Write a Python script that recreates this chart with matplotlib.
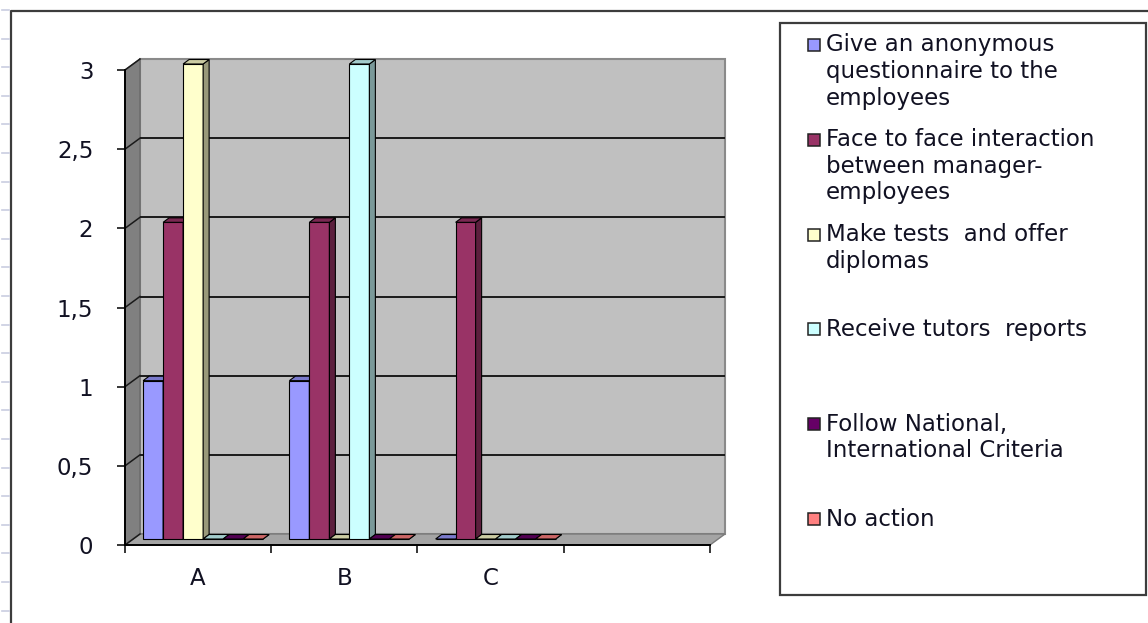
import matplotlib.pyplot as plt
import numpy as np
from matplotlib.colors import to_rgb
from matplotlib.lines import Line2D
from matplotlib.patches import Polygon, Rectangle

W, H = 1148, 623

categories = ['A', 'B', 'C']
series_names = [
    'Give an anonymous\nquestionnaire to the\nemployees',
    'Face to face interaction\nbetween manager-\nemployees',
    'Make tests  and offer\ndiplomas',
    'Receive tutors  reports',
    'Follow National,\nInternational Criteria',
    'No action',
]
questionnaire = [1, 1, 0]
face_to_face = [2, 2, 2]
tests_diplomas = [3, 0, 0]
tutors_reports = [0, 3, 0]
national_criteria = [0, 0, 0]
no_action = [0, 0, 0]
series_values = [questionnaire, face_to_face, tests_diplomas,
                 tutors_reports, national_criteria, no_action]
colors = ['#9999FF', '#993366', '#FFFFCC', '#CCFFFF', '#660066', '#FF8080']
y_ticks = [0, 0.5, 1, 1.5, 2, 2.5, 3]
y_labels = ['0', '0,5', '1', '1,5', '2', '2,5', '3']

# front plane of the plot in pixels
AX_L, AX_R, AX_T, AX_B = 125, 710, 70, 545
X_MIN, X_MAX, Y_MAX = -0.5, 3.5, 3
PX_X = (AX_R - AX_L) / (X_MAX - X_MIN)
PX_Y = (AX_B - AX_T) / Y_MAX


def px(dx, dy):
    return dx / PX_X, dy / PX_Y


def shade(color, k):
    return tuple(c * k for c in to_rgb(color))


wall_dx, wall_dy = px(15, 11)
front_dx, front_dy = px(5, 6)
depth_dx, depth_dy = px(6, 4.5)
bar_w = 20 / PX_X

fig = plt.figure(figsize=(W / 100, H / 100), dpi=100)
ax = fig.add_axes([AX_L / W, (H - AX_B) / H, (AX_R - AX_L) / W, (AX_B - AX_T) / H])
ax.set_xlim(X_MIN, X_MAX)
ax.set_ylim(0, Y_MAX)
ax.patch.set_visible(False)

# walls and floor
x0, x1 = X_MIN, X_MAX
ax.add_patch(Rectangle((x0 + wall_dx, wall_dy), x1 - x0, Y_MAX, facecolor='#C0C0C0',
                       edgecolor='#8a8a8a', lw=1.5, zorder=0.5, clip_on=False))
ax.add_patch(Polygon([(x0, 0), (x0 + wall_dx, wall_dy), (x0 + wall_dx, Y_MAX + wall_dy), (x0, Y_MAX)],
                     facecolor='#808080', edgecolor='#6a6a6a', lw=1, zorder=0.6, clip_on=False))
ax.add_patch(Polygon([(x0, 0), (x1, 0), (x1 + wall_dx, wall_dy), (x0 + wall_dx, wall_dy)],
                     facecolor='#A4A4A4', edgecolor='#7a7a7a', lw=1, zorder=0.6, clip_on=False))

# gridlines on back and side wall
for v in y_ticks[1:-1]:
    ax.plot([x0 + wall_dx, x1 + wall_dx], [v + wall_dy, v + wall_dy], color='#1a1a1a', lw=1.4,
            zorder=1, clip_on=False, solid_capstyle='butt')
for v in y_ticks:
    ax.plot([x0, x0 + wall_dx], [v, v + wall_dy], color='#1a1a1a', lw=1.1, zorder=1, clip_on=False)

# 3D columns: front face via ax.bar, top and side faces from the same values
n = len(series_values)
pos = np.arange(len(categories))
for i, (vals, color) in enumerate(zip(series_values, colors)):
    xs = pos + (i - n / 2) * bar_w + front_dx
    z = 3 + i * 0.1
    ax.bar(xs, vals, width=bar_w, bottom=front_dy, align='edge', color=color,
           edgecolor='black', linewidth=0.8, zorder=z, clip_on=False)
    for x, v in zip(xs, vals):
        top = v + front_dy
        ax.add_patch(Polygon([(x + bar_w, front_dy), (x + bar_w + depth_dx, front_dy + depth_dy),
                              (x + bar_w + depth_dx, top + depth_dy), (x + bar_w, top)],
                             facecolor=shade(color, 0.6), edgecolor='black', lw=0.8,
                             zorder=z + 0.01, clip_on=False))
        ax.add_patch(Polygon([(x, top), (x + bar_w, top), (x + bar_w + depth_dx, top + depth_dy),
                              (x + depth_dx, top + depth_dy)],
                             facecolor=shade(color, 0.8), edgecolor='black', lw=0.8,
                             zorder=z + 0.02, clip_on=False))

# axes
for side in ['top', 'right']:
    ax.spines[side].set_visible(False)
for side in ['left', 'bottom']:
    ax.spines[side].set_linewidth(1.4)
    ax.spines[side].set_color('black')
    ax.spines[side].set_zorder(5)

ax.set_yticks(y_ticks, y_labels)
ax.tick_params(axis='y', direction='out', length=5.8, width=1.1, pad=17,
               labelsize=16.5, labelcolor='#111122')
ax.set_xticks(pos, categories)
ax.set_xticks(np.arange(X_MIN, X_MAX + 0.1, 1), minor=True)
ax.tick_params(axis='x', which='major', length=0, pad=16, labelsize=16.5, labelcolor='#111122')
ax.tick_params(axis='x', which='minor', direction='out', length=6, width=1.1)
for lab in ax.get_xticklabels() + ax.get_yticklabels():
    lab.set_family('DejaVu Sans')

# outer chart frame and the faint ruler marks on the far left
fig.add_artist(Line2D([11 / W, 11 / W, 1], [0, 1 - 11 / H, 1 - 11 / H], color='#3c3c3c', lw=1.6))
for yy in np.arange(10, H, 28.6):
    fig.add_artist(Line2D([2 / W, 9 / W], [1 - yy / H] * 2, color='#c9cde0', lw=1.2))

# legend box
LG_L, LG_R, LG_T, LG_B = 780, 1146, 23, 595
fig.add_artist(Rectangle((LG_L / W, 1 - LG_B / H), (LG_R - LG_L) / W, (LG_B - LG_T) / H,
                         facecolor='white', edgecolor='#3c3c3c', lw=1.6, transform=fig.transFigure))
line_h = 26.5
for k, (name, color) in enumerate(zip(series_names, colors)):
    y_first = 45 + k * 94.8
    fig.add_artist(Rectangle((808 / W, 1 - (y_first + 6) / H), 12 / W, 12 / H, facecolor=color,
                             edgecolor='#222222', lw=1.1, transform=fig.transFigure))
    for j, line in enumerate(name.split('\n')):
        fig.text(826 / W, 1 - (y_first + j * line_h) / H, line, fontsize=16.5,
                 family='DejaVu Sans', color='#111122', va='center', ha='left')

fig.savefig('out.png', dpi=100)
